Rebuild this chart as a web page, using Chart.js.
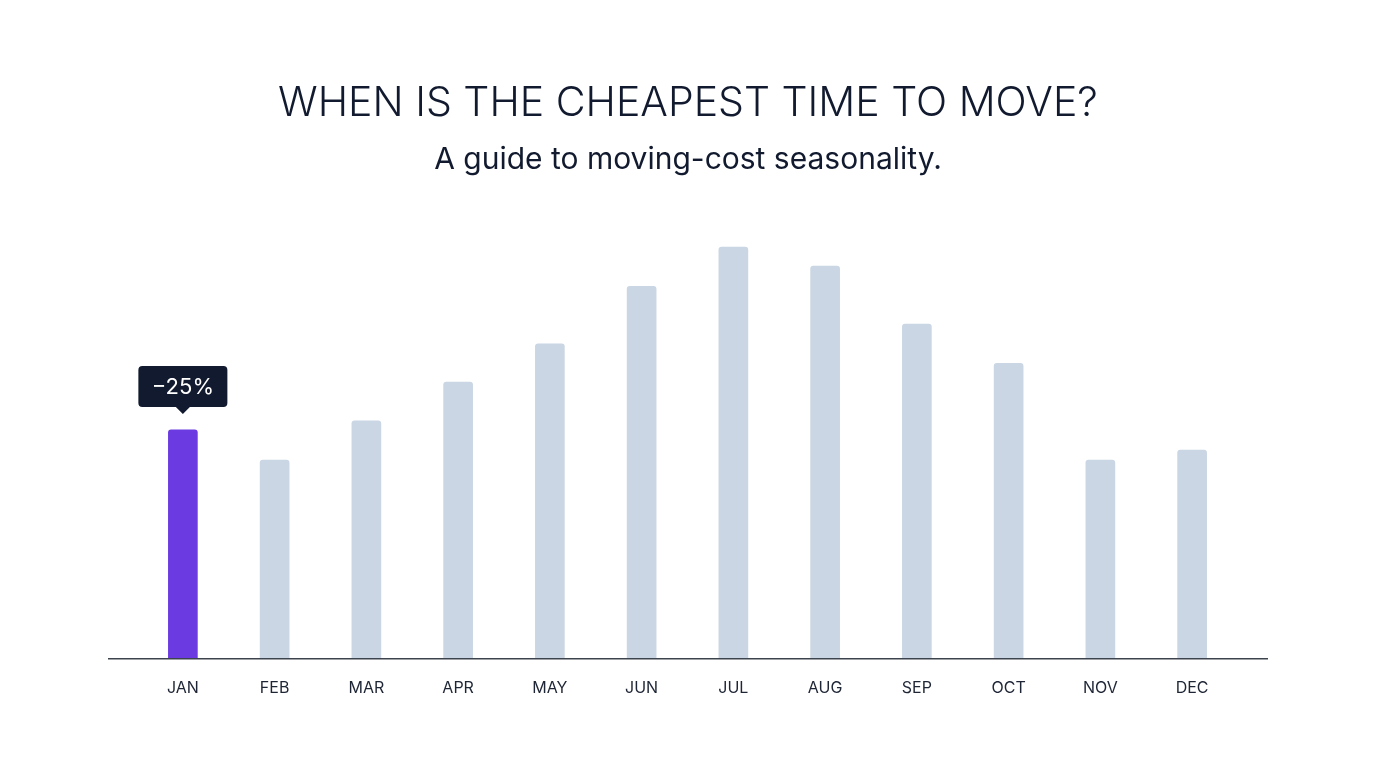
<!DOCTYPE html>
<html>
<head>
<meta charset="utf-8">
<script src="https://cdn.jsdelivr.net/npm/chart.js@4/dist/chart.umd.min.js"></script>
<style>
  html, body { margin: 0; padding: 0; background: #ffffff; }
  body { width: 1376px; height: 768px; position: relative; overflow: hidden; font-family: Inter, "Noto Sans", sans-serif; }
  #title { position: absolute; left: 0; width: 1376px; top: 77px; text-align: center; font-size: 41px; font-weight: 300; color: #111a2e; line-height: 1.21; }
  #subtitle { position: absolute; left: 0; width: 1376px; top: 140px; text-align: center; font-size: 30px; font-weight: 400; color: #111a2e; line-height: 1.21; }
  #wrap { position: absolute; left: 0; top: 0; width: 1376px; height: 768px; }
</style>
</head>
<body>
<div id="wrap"><canvas id="c" width="1376" height="768"></canvas></div>
<div id="title">WHEN IS THE CHEAPEST TIME TO MOVE?</div>
<div id="subtitle">A guide to moving-cost seasonality.</div>
<script>
const months = ["JAN","FEB","MAR","APR","MAY","JUN","JUL","AUG","SEP","OCT","NOV","DEC"];
const costIndex = [55.6, 48.3, 57.8, 67.2, 76.5, 90.5, 100, 95.4, 81.3, 71.8, 48.3, 50.7];
const highlightMonth = "JAN";
const highlightLabel = "\u221225%";

const barColors = months.map(m => m === highlightMonth ? "#6b3ae0" : "#cad6e3");

const baselinePlugin = {
  id: "baseline",
  afterDatasetsDraw(chart) {
    const { ctx, chartArea, scales } = chart;
    const y = scales.y.getPixelForValue(0);
    ctx.save();
    ctx.strokeStyle = "#3d434c";
    ctx.lineWidth = 1.6;
    ctx.beginPath();
    ctx.moveTo(chartArea.left - 29, y);
    ctx.lineTo(chartArea.right + 30, y);
    ctx.stroke();
    ctx.restore();
  }
};

const calloutPlugin = {
  id: "callout",
  afterDatasetsDraw(chart) {
    const idx = months.indexOf(highlightMonth);
    const el = chart.getDatasetMeta(0).data[idx];
    const { ctx } = chart;
    const x = el.x, top = el.y;
    const w = 89, h = 41, r = 4, caret = 7;
    const tipY = top - 16;
    const boxBottom = tipY - caret;
    const boxTop = boxBottom - h;
    const left = x - w / 2;
    ctx.save();
    ctx.fillStyle = "#111a2e";
    ctx.beginPath();
    ctx.moveTo(left + r, boxTop);
    ctx.lineTo(left + w - r, boxTop);
    ctx.quadraticCurveTo(left + w, boxTop, left + w, boxTop + r);
    ctx.lineTo(left + w, boxBottom - r);
    ctx.quadraticCurveTo(left + w, boxBottom, left + w - r, boxBottom);
    ctx.lineTo(x + caret, boxBottom);
    ctx.lineTo(x, tipY);
    ctx.lineTo(x - caret, boxBottom);
    ctx.lineTo(left + r, boxBottom);
    ctx.quadraticCurveTo(left, boxBottom, left, boxBottom - r);
    ctx.lineTo(left, boxTop + r);
    ctx.quadraticCurveTo(left, boxTop, left + r, boxTop);
    ctx.closePath();
    ctx.fill();
    ctx.fillStyle = "#ffffff";
    ctx.font = "400 22px Inter";
    ctx.textAlign = "center";
    ctx.textBaseline = "middle";
    ctx.fillText(highlightLabel, x, boxTop + h / 2 + 1);
    ctx.restore();
  }
};

new Chart(document.getElementById("c"), {
  type: "bar",
  data: {
    labels: months,
    datasets: [{
      data: costIndex,
      backgroundColor: barColors,
      borderRadius: { topLeft: 3, topRight: 3, bottomLeft: 0, bottomRight: 0 },
      borderSkipped: "bottom",
      barThickness: 29
    }]
  },
  options: {
    responsive: false,
    animation: false,
    events: [],
    layout: { padding: { left: 137, right: 138, top: 206, bottom: 50 } },
    plugins: { legend: { display: false }, tooltip: { enabled: false }, title: { display: false } },
    scales: {
      x: {
        grid: { display: false, drawTicks: false },
        border: { display: false },
        ticks: { color: "#1e2535", font: { family: "Inter", size: 16 }, padding: 20 }
      },
      y: {
        display: false,
        min: 0,
        max: 110
      }
    }
  },
  plugins: [baselinePlugin, calloutPlugin]
});
</script>
</body>
</html>
